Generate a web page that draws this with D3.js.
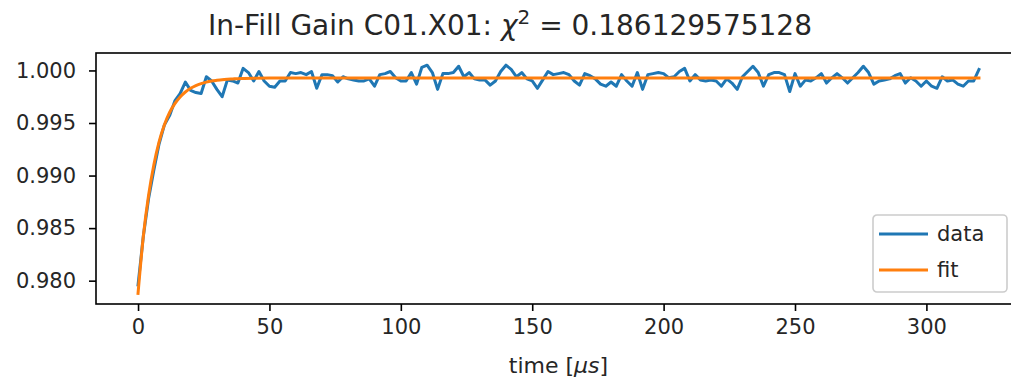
<!DOCTYPE html>
<html>
<head>
<meta charset="utf-8">
<script src="https://cdn.jsdelivr.net/npm/d3@7"></script>
<style>
  html, body { margin: 0; padding: 0; background: #fff; }
  svg { display: block; font-family: "DejaVu Sans", sans-serif; }
  .tick text { fill: #262626; }
</style>
</head>
<body>
<svg id="chart" width="1011" height="380"></svg>
<script>
// Gain measured every 2 µs over the fill
const sampleStep = 2;
const gain = [
  0.9796, 0.9842, 0.9878, 0.9905, 0.9930, 0.9948, 0.9957, 0.9971, 0.9978, 0.9989,
  0.9981, 0.9979, 0.9978, 0.9994, 0.9990, 0.9982, 0.9975, 0.9991, 0.9990, 0.9988,
  1.0002, 0.9998, 0.9990, 0.9999, 0.9990, 0.9985, 0.9984, 0.9990, 0.9990, 0.9998,
  0.9997, 0.9998, 0.9996, 0.9999, 0.9983, 0.9996, 0.9996, 0.9995, 0.9989, 0.9994,
  0.9992, 0.9991, 0.9990, 0.9990, 0.9992, 0.9985, 0.9996, 0.9997, 0.9999, 0.9993,
  0.9990, 0.9990, 0.9998, 0.9987, 1.0003, 1.0005, 0.9998, 0.9982, 0.9997, 0.9997,
  0.9998, 1.0004, 0.9994, 0.9998, 0.9992, 0.9991, 0.9991, 0.9986, 0.9990, 0.9999,
  1.0005, 1.0001, 0.9994, 0.9998, 0.9992, 0.9990, 0.9983, 0.9991, 0.9999, 0.9996,
  0.9997, 0.9998, 0.9996, 0.9990, 0.9986, 0.9997, 0.9995, 0.9992, 0.9987, 0.9985,
  0.9989, 0.9985, 0.9996, 0.9990, 0.9985, 0.9998, 0.9982, 0.9996, 0.9997, 0.9998,
  0.9997, 0.9993, 0.9994, 0.9999, 1.0002, 0.9990, 0.9996, 0.9991, 0.9990, 0.9991,
  0.9990, 0.9985, 0.9992, 0.9988, 0.9982, 0.9994, 0.9999, 1.0004, 0.9998, 0.9985,
  0.9996, 0.9998, 0.9998, 0.9996, 0.9980, 0.9997, 0.9985, 0.9991, 0.9990, 0.9993,
  0.9997, 0.9988, 0.9993, 0.9997, 0.9993, 0.9988, 0.9993, 0.9998, 1.0004, 0.9998,
  0.9987, 0.9990, 0.9991, 0.9992, 0.9995, 0.9997, 0.9988, 0.9993, 0.9990, 0.9985,
  0.9990, 0.9985, 0.9983, 0.9994, 0.9990, 0.9991, 0.9987, 0.9985, 0.9990, 0.9990,
  1.0001
];
const times = gain.map((_, i) => i * sampleStep);

// Fitted recovery curve
const fitTimes = [0, 2, 4, 6, 8, 10, 12, 14, 16, 18, 20, 22, 24, 26, 28, 30, 32, 34, 36, 38, 40, 44, 50, 60, 320];
const fitGain  = [0.9788, 0.9842, 0.9881, 0.9910, 0.9932, 0.9948, 0.9960, 0.99684, 0.99748, 0.99795,
                  0.99830, 0.99856, 0.99875, 0.99889, 0.99899, 0.99906, 0.99912, 0.99916, 0.99919, 0.99922,
                  0.99923, 0.99925, 0.99927, 0.99928, 0.99928];

const xTicks = [0, 50, 100, 150, 200, 250, 300];
const yTicks = [0.980, 0.985, 0.990, 0.995, 1.000];
const seriesNames = ["data", "fit"];
const seriesColors = ["#1f77b4", "#ff7f0e"];
const chi2Text = "0.186129575128";

const svg = d3.select("#chart");
const plot = { left: 96, right: 1021, top: 53, bottom: 304 };

const x = d3.scaleLinear().domain([-16, 336]).range([plot.left, plot.right]);
const y = d3.scaleLinear().domain([0.97778, 1.00166]).range([plot.bottom, plot.top]);

svg.append("defs").append("clipPath").attr("id", "plotClip")
  .append("rect")
  .attr("x", plot.left).attr("y", plot.top)
  .attr("width", plot.right - plot.left).attr("height", plot.bottom - plot.top);

// Lines
const line = d3.line().x(d => x(d[0])).y(d => y(d[1]));
const lines = svg.append("g").attr("clip-path", "url(#plotClip)");
lines.append("path")
  .datum(times.map((t, i) => [t, gain[i]]))
  .attr("d", line)
  .attr("fill", "none")
  .attr("stroke", seriesColors[0])
  .attr("stroke-width", 3)
  .attr("stroke-linejoin", "round")
  .attr("stroke-linecap", "square");
lines.append("path")
  .datum(fitTimes.map((t, i) => [t, fitGain[i]]))
  .attr("d", line.curve(d3.curveMonotoneX))
  .attr("fill", "none")
  .attr("stroke", seriesColors[1])
  .attr("stroke-width", 3)
  .attr("stroke-linejoin", "round")
  .attr("stroke-linecap", "square");

// Axes
const xAxis = d3.axisBottom(x).tickValues(xTicks).tickFormat(d3.format("d"))
  .tickSize(7).tickPadding(8).tickSizeOuter(0);
const yAxis = d3.axisLeft(y).tickValues(yTicks).tickFormat(d3.format(".3f"))
  .tickSize(7).tickPadding(13).tickSizeOuter(0);

const gx = svg.append("g").attr("transform", `translate(0,${plot.bottom})`).call(xAxis);
const gy = svg.append("g").attr("transform", `translate(${plot.left},0)`).call(yAxis);
[gx, gy].forEach(g => {
  g.select(".domain").remove();
  g.selectAll(".tick line").attr("stroke", "#000").attr("stroke-width", 1.6);
  g.selectAll(".tick text").attr("font-size", 21).attr("font-family", "DejaVu Sans");
});

// Spines (right side lies past the canvas edge)
const spine = svg.append("g").attr("fill", "none").attr("stroke", "#000").attr("stroke-width", 1.6);
spine.append("rect")
  .attr("x", plot.left).attr("y", plot.top)
  .attr("width", plot.right - plot.left).attr("height", plot.bottom - plot.top);

// Title
const title = svg.append("text")
  .attr("x", 510).attr("y", 35)
  .attr("text-anchor", "middle")
  .attr("font-size", 28)
  .attr("fill", "#262626");
title.append("tspan").text("In-Fill Gain C01.X01: ");
title.append("tspan").attr("font-style", "italic").text("χ");
title.append("tspan").attr("font-size", 20).attr("dy", -11).text("2");
title.append("tspan").attr("dy", 11).text(" = " + chi2Text);

// X axis label
const xl = svg.append("text")
  .attr("x", (plot.left + plot.right) / 2).attr("y", 373)
  .attr("text-anchor", "middle")
  .attr("font-size", 22)
  .attr("fill", "#262626");
xl.append("tspan").text("time [");
xl.append("tspan").attr("font-style", "italic").text("μs");
xl.append("tspan").text("]");

// Legend
const legend = svg.append("g").attr("transform", "translate(873,215)");
legend.append("rect")
  .attr("width", 134).attr("height", 77)
  .attr("rx", 4).attr("ry", 4)
  .attr("fill", "#fff").attr("fill-opacity", 0.8)
  .attr("stroke", "#cccccc").attr("stroke-width", 1.6);
seriesNames.forEach((name, i) => {
  const cy = 19 + i * 36;
  legend.append("line")
    .attr("x1", 6).attr("x2", 55).attr("y1", cy).attr("y2", cy)
    .attr("stroke", seriesColors[i]).attr("stroke-width", 3);
  legend.append("text")
    .attr("x", 64).attr("y", cy + 7)
    .attr("font-size", 21).attr("fill", "#262626")
    .text(name);
});
</script>
</body>
</html>
